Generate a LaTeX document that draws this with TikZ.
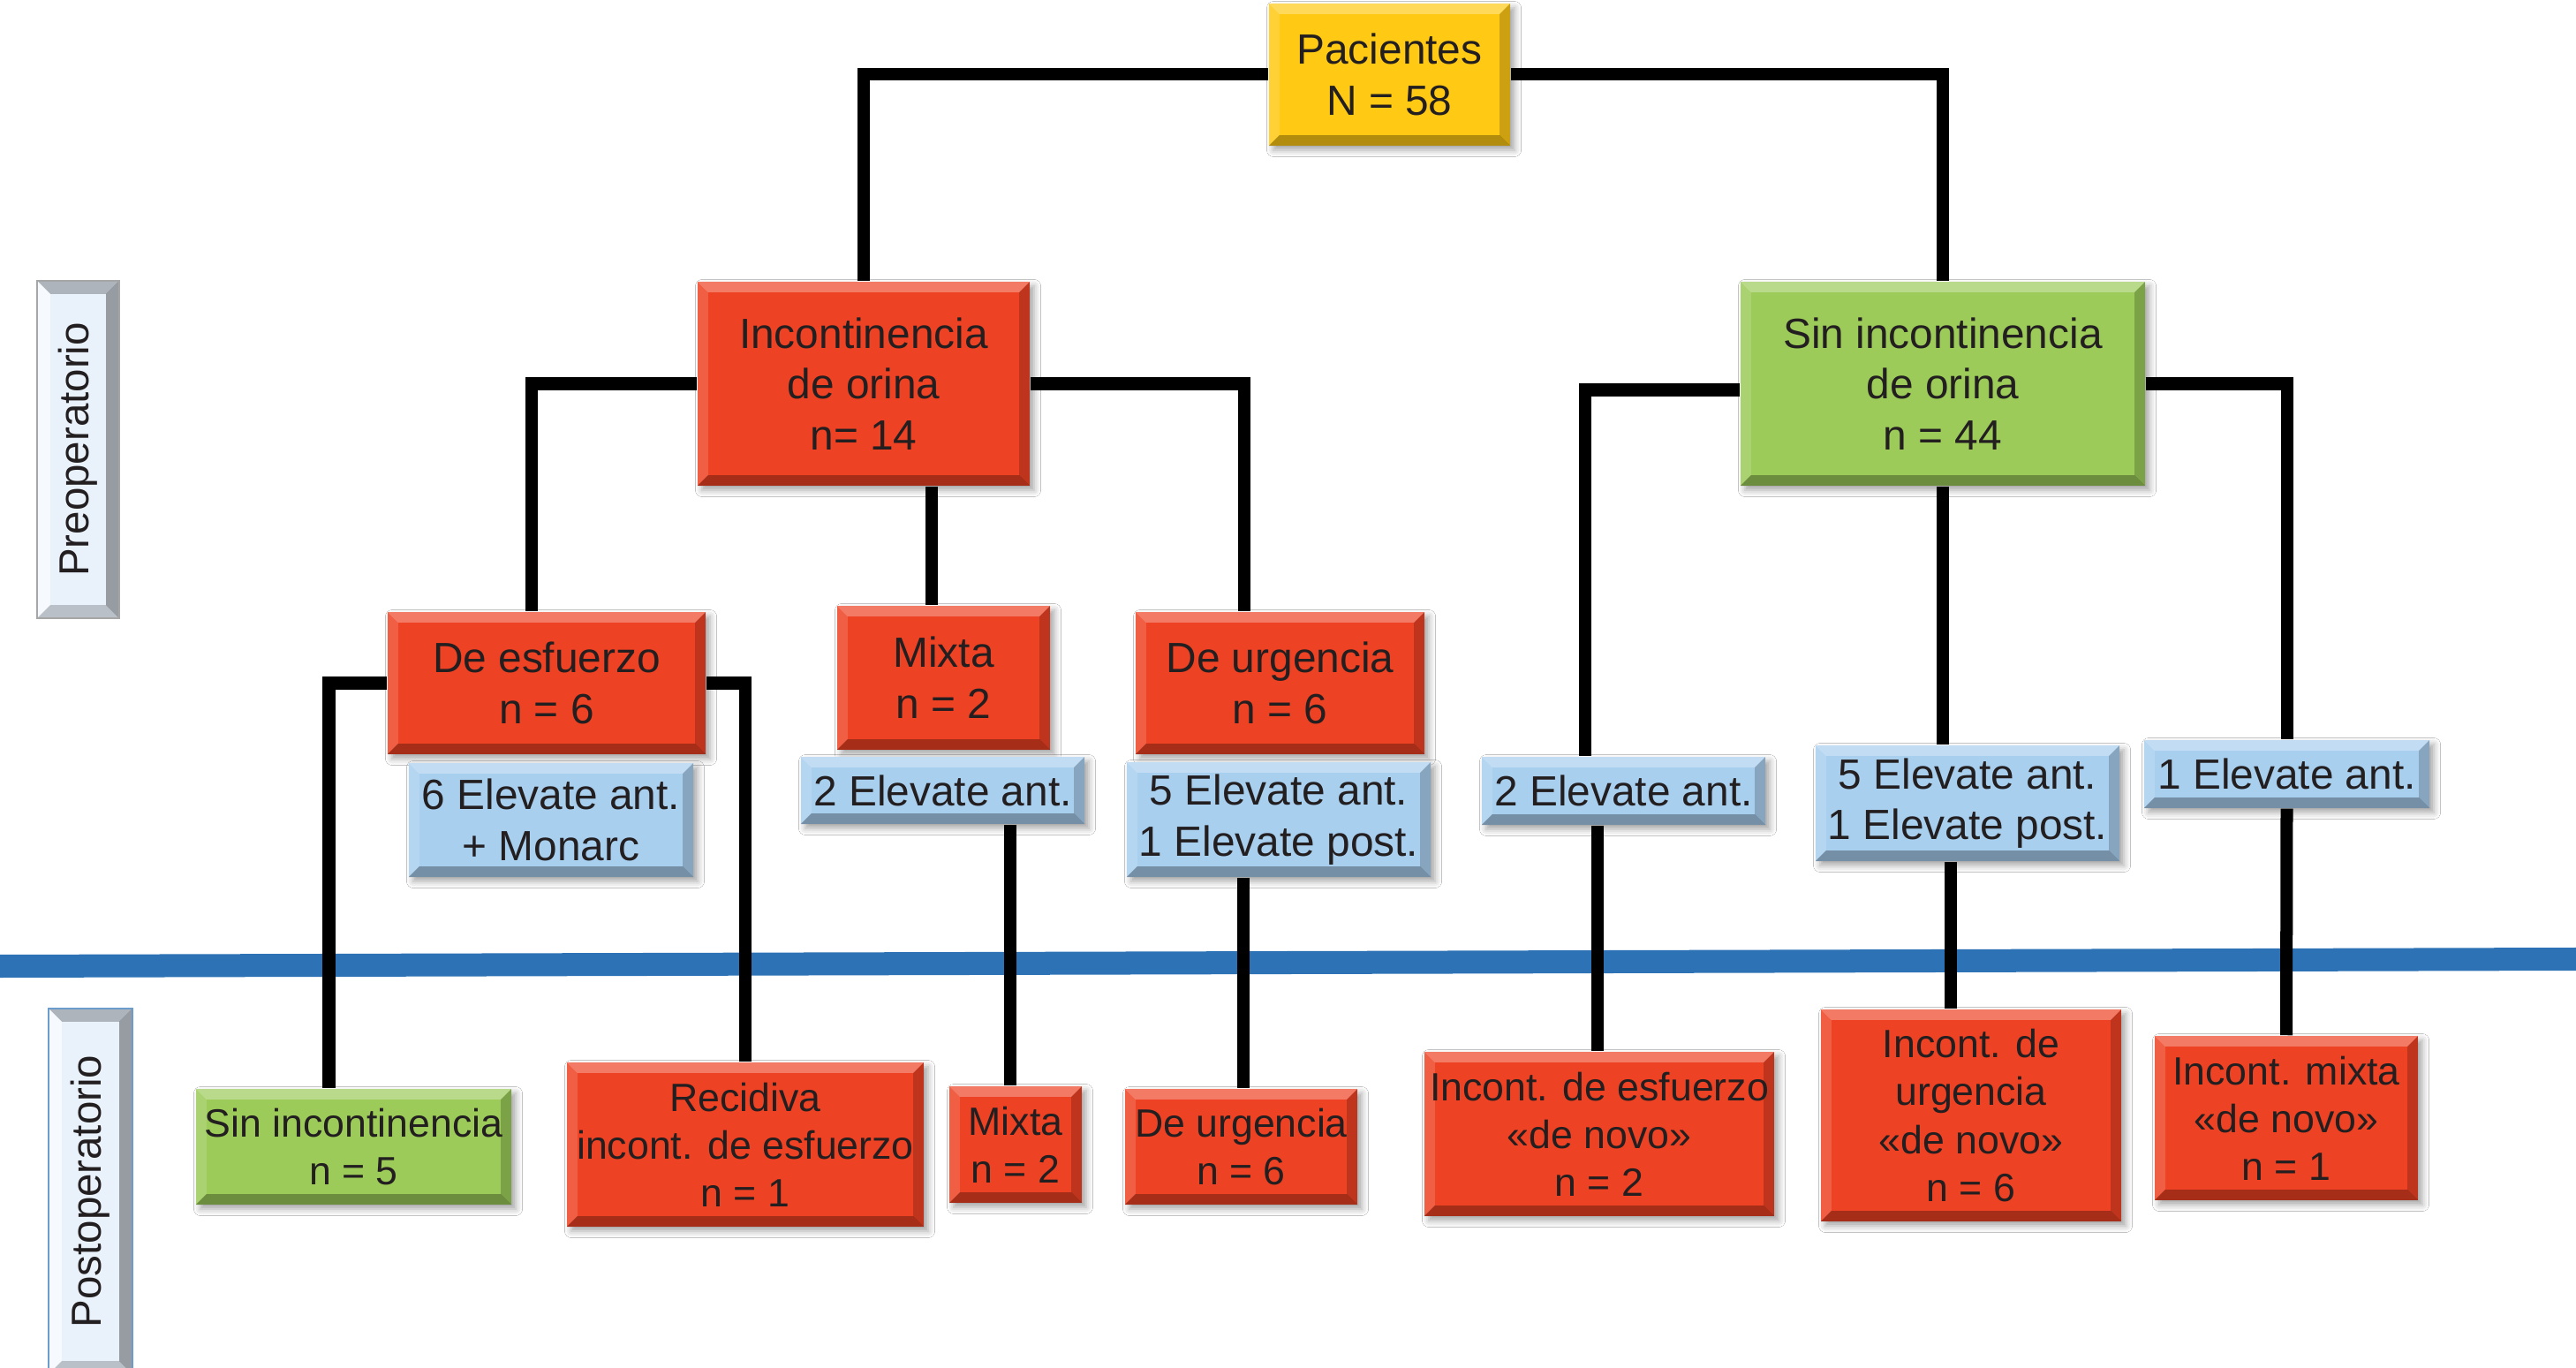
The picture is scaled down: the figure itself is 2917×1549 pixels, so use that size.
\documentclass[tikz,border=0pt]{standalone}
\usepackage{fontspec}
\setmainfont{Liberation Sans}
\usetikzlibrary{backgrounds,shadows.blur,calc}
\definecolor{cyel}{HTML}{FFC914}
\definecolor{cred}{HTML}{EE4224}
\definecolor{cgrn}{HTML}{9CCB59}
\definecolor{cblu}{HTML}{A9CFEF}
\definecolor{cside}{HTML}{E9F1FA}
\definecolor{cband}{HTML}{2C72B5}
\definecolor{txt}{HTML}{231F20}
\tikzset{
  bev/.style={path picture={
    \path (path picture bounding box.north west) coordinate (pA)
          (path picture bounding box.north east) coordinate (pB)
          (path picture bounding box.south east) coordinate (pC)
          (path picture bounding box.south west) coordinate (pD);
    \fill[white,opacity=0.30] (pA) -- (pB) -- ([shift={(-#1,-#1)}]pB) -- ([shift={(#1,-#1)}]pA) -- cycle;
    \fill[white,opacity=0.15] (pA) -- (pD) -- ([shift={(#1,#1)}]pD) -- ([shift={(#1,-#1)}]pA) -- cycle;
    \fill[black,opacity=0.30] (pD) -- (pC) -- ([shift={(-#1,#1)}]pC) -- ([shift={(#1,#1)}]pD) -- cycle;
    \fill[black,opacity=0.20] (pB) -- (pC) -- ([shift={(-#1,#1)}]pC) -- ([shift={(-#1,-#1)}]pB) -- cycle;
  }},
  bev/.default=0.12cm,
  sidebev/.style={path picture={
    \path (path picture bounding box.north west) coordinate (pA)
          (path picture bounding box.north east) coordinate (pB)
          (path picture bounding box.south east) coordinate (pC)
          (path picture bounding box.south west) coordinate (pD);
    \fill[black,opacity=0.25] (pA) -- (pB) -- ([shift={(-0.15cm,-0.15cm)}]pB) -- ([shift={(0.15cm,-0.15cm)}]pA) -- cycle;
    \fill[white,opacity=0.6] (pA) -- (pD) -- ([shift={(0.15cm,0.15cm)}]pD) -- ([shift={(0.15cm,-0.15cm)}]pA) -- cycle;
    \fill[black,opacity=0.20] (pD) -- (pC) -- ([shift={(-0.15cm,0.15cm)}]pC) -- ([shift={(0.15cm,0.15cm)}]pD) -- cycle;
    \fill[black,opacity=0.35] (pB) -- (pC) -- ([shift={(-0.15cm,0.15cm)}]pC) -- ([shift={(-0.15cm,-0.15cm)}]pB) -- cycle;
  }},
  base/.style={draw=none, inner sep=0pt, align=center, text=txt,
    font=\fontsize{13.6}{16.4}\selectfont, bev,
    blur shadow={shadow xshift=0.05cm, shadow yshift=-0.05cm, shadow blur steps=4, shadow opacity=35}},
  yelbox/.style={base, fill=cyel},
  redbox/.style={base, fill=cred},
  grnbox/.style={base, fill=cgrn},
  blubox/.style={base, fill=cblu},
  postf/.style={font=\fontsize{12.7}{15.4}\selectfont},
  sidebox/.style={draw=gray!70, line width=0.02cm, inner sep=0pt, align=center, text=txt,
    fill=cside, sidebev, font=\fontsize{13.5}{16}\selectfont},
  conn/.style={line width=0.14cm, black},
  bandline/.style={line width=0.26cm, cband}
}
\begin{document}
\begin{tikzpicture}[x=0.01cm, y=-0.01cm]
\useasboundingbox (0,0) rectangle (2917,1549);

% top levels
\node[yelbox, minimum width=2.73cm, minimum height=1.61cm] (pac) at (1573.5,84.5) {Pacientes\\N = 58};
\node[redbox, minimum width=3.76cm, minimum height=2.31cm] (inc) at (978,434.5) {Incontinencia\\de orina\\n= 14};
\node[grnbox, minimum width=4.58cm, minimum height=2.31cm] (sin) at (2200,434.5) {Sin incontinencia\\de orina\\n = 44};

\node[redbox, minimum width=3.60cm, minimum height=1.61cm] (esf) at (619,773.5) {De esfuerzo\\n = 6};
\node[redbox, minimum width=2.41cm, minimum height=1.63cm] (mixpre) at (1068.5,767.5) {Mixta\\n = 2};
\node[redbox, minimum width=3.27cm, minimum height=1.61cm] (urg) at (1449.5,773.5) {De urgencia\\n = 6};

\node[blubox, minimum width=3.22cm, minimum height=1.29cm] (b6) at (624,928.5) {6 Elevate ant.\\+ Monarc};
\node[blubox, minimum width=3.21cm, minimum height=0.76cm] (b2p) at (1067.5,895) {2 Elevate ant.};
\node[blubox, minimum width=3.44cm, minimum height=1.30cm] (b5p) at (1448,928) {5 Elevate ant.\\1 Elevate post.};
\node[blubox, minimum width=3.21cm, minimum height=0.77cm] (b2r) at (1838.5,895.5) {2 Elevate ant.};
\node[blubox, minimum width=3.44cm, minimum height=1.31cm] (b5r) at (2228,909.5) {5 Elevate ant.\\1 Elevate post.};
\node[blubox, minimum width=3.23cm, minimum height=0.77cm] (b1r) at (2589.5,876.5) {1 Elevate ant.};

% postoperative
\node[grnbox, postf, minimum width=3.57cm, minimum height=1.31cm] (sinpost) at (400.5,1298.5) {Sin incontinencia\\n = 5};
\node[redbox, postf, minimum width=4.04cm, minimum height=1.86cm] (recid) at (844,1296) {Recidiva\\incont. de esfuerzo\\n = 1};
\node[redbox, postf, minimum width=1.50cm, minimum height=1.32cm] (mixpost) at (1150,1296) {Mixta\\n = 2};
\node[redbox, postf, minimum width=2.63cm, minimum height=1.31cm] (urgpost) at (1405.5,1298.5) {De urgencia\\n = 6};
\node[redbox, postf, minimum width=3.96cm, minimum height=1.86cm] (iesf) at (1811,1284) {Incont. de esfuerzo\\«de novo»\\n = 2};
\node[redbox, postf, minimum width=3.40cm, minimum height=2.40cm] (iurg) at (2232,1263) {Incont. de\\urgencia\\«de novo»\\n = 6};
\node[redbox, postf, minimum width=2.98cm, minimum height=1.86cm] (imix) at (2589,1266) {Incont. mixta\\«de novo»\\n = 1};

% side labels (drawn upright as boxes, text rotated)
\node[sidebox, minimum width=0.93cm, minimum height=3.82cm] (pre) at (88.5,509) {};
\node[rotate=90, text=txt, font=\fontsize{13.5}{16}\selectfont, inner sep=0pt] (pretxt) at (pre.center) {Preoperatorio};
\node[sidebox, draw=cband!70, minimum width=0.95cm, minimum height=4.14cm] (postl) at (102.5,1349) {};
\node[rotate=90, text=txt, font=\fontsize{13.5}{16}\selectfont, inner sep=0pt] (posttxt) at (postl.center) {Postoperatorio};

\begin{scope}[on background layer]
\fill[white] (0,0) rectangle (2917,1549);
\coordinate (bandL) at (0,1094);
\coordinate (bandR) at (2917,1086);
\draw[bandline] (bandL) -- (bandR);

\draw[conn] (pac.west) -| (inc.north);
\draw[conn] (pac.east) -| (sin.north);
\draw[conn] (inc.west) -| ($(esf.north)+(-17,0)$);
\draw[conn] ($(inc.south)+(77,0)$) -- ($(inc.south |- mixpre.north)+(77,0)$);
\draw[conn] (inc.east) -| ($(urg.north)+(-41,0)$);
\draw[conn] (esf.west) -| ($(sinpost.north)+(-28,0)$);
\draw[conn] (esf.east) -| (recid.north);
\draw[conn] ($(b2p.south)+(76,0)$) -- ($(b2p.south |- mixpost.north)+(76,0)$);
\draw[conn] ($(b5p.south)+(-40,0)$) -- ($(b5p.south |- urgpost.north)+(-40,0)$);
\draw[conn] ($(sin.west)+(0,7)$) -| ($(b2r.north)+(-44,0)$);
\draw[conn] (sin.south) -- (sin.south |- b5r.north);
\draw[conn] (sin.east) -| (b1r.north);
\draw[conn] ($(b2r.south)+(-30,0)$) -- ($(b2r.south |- iesf.north)+(-30,0)$);
\draw[conn] ($(b5r.south)+(-19,0)$) -- ($(b5r.south |- iurg.north)+(-19,0)$);
\draw[conn] (b1r.south) -- (imix.north);
\end{scope}
\end{tikzpicture}
\end{document}
